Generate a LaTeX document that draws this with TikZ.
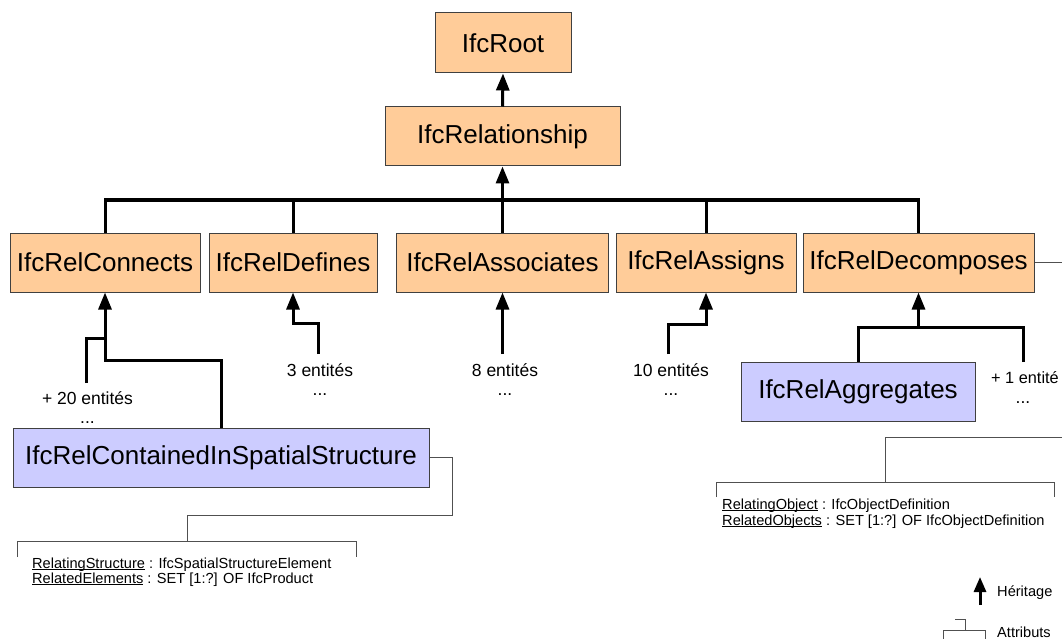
\documentclass[tikz,border=0pt]{standalone}
\usepackage{fontspec}
\setmainfont{Liberation Sans}
\usetikzlibrary{arrows.meta}
\definecolor{boxorange}{HTML}{FFCC99}
\definecolor{boxblue}{HTML}{CCCCFF}
\definecolor{edgegray}{HTML}{404040}
\definecolor{attrgray}{HTML}{505050}
\newcommand{\ulx}[1]{\setbox0\hbox{#1}\rlap{\rule[-1.8pt]{\wd0}{0.7pt}}\box0\relax}
\begin{document}
\begin{tikzpicture}[x=1pt,y=-1pt,
  cls/.style={draw=edgegray, line width=1pt, inner sep=0pt, minimum height=59pt,
    font=\fontsize{26}{30}\selectfont},
  orng/.style={cls, fill=boxorange},
  blu/.style={cls, fill=boxblue},
  heavy/.style={line width=3pt, black},
  inh/.style={heavy, -{Triangle[length=17pt,width=13pt]}},
  attr/.style={line width=1pt, attrgray},
  lbl/.style={inner sep=0pt, font=\fontsize{17.5}{20}\selectfont},
  atx/.style={inner sep=0pt, font=\fontsize{14.6}{16}\selectfont}]
\useasboundingbox (0,0) rectangle (1062,639);
\clip (0,0) rectangle (1062,639);

% classes
\node[orng, minimum width=136pt, minimum height=60pt] (root) at (503,43) {IfcRoot};
\node[orng, minimum width=235pt] (rel) at (502.5,136.5) {IfcRelationship};
\node[orng, minimum width=190pt] (conn) at (105,262.5) {IfcRelConnects};
\node[orng, minimum width=168pt] (def) at (293,262.5) {IfcRelDefines};
\node[orng, minimum width=212pt] (assoc) at (502.5,262.5) {IfcRelAssociates};
\node[orng, minimum width=180pt] (assigns) at (706,262.5) {IfcRelAssigns};
\node[orng, minimum width=231pt] (decomp) at (918.5,262.5) {IfcRelDecomposes};
\node[blu, minimum width=416pt] (contained) at (221,457.5) {IfcRelContainedInSpatialStructure};
\node[blu, minimum width=234pt] (aggr) at (858,391.5) {IfcRelAggregates};

% inheritance tree
\coordinate (bus) at (502.5,200);
\draw[heavy] (conn.north) |- (bus) -| (decomp.north);
\draw[heavy] (def.north) -- (def.north |- bus);
\draw[heavy] (assoc.north) -- (assoc.north |- bus);
\draw[heavy] (assigns.north) -- (assigns.north |- bus);
\draw[inh] (bus) -- (rel.south);
\draw[inh] (rel.north) -- (root.south);

% IfcRelConnects subtypes
\coordinate (cj1) at (105,338);
\coordinate (cj2) at (105,360);
\coordinate (ck1) at (86,383);
\draw[inh] (contained.north) |- (cj2) -- (conn.south);
\draw[heavy] (ck1) |- (cj1);

% IfcRelDefines
\coordinate (dk) at (318,354);
\coordinate (dj) at (293,323);
\draw[inh] (dk) |- (dj) -- (def.south);

% IfcRelAssociates
\coordinate (ak) at (502.5,354);
\draw[inh] (ak) -- (assoc.south);

% IfcRelAssigns
\coordinate (sk) at (668,354);
\coordinate (sj) at (706,324);
\draw[inh] (sk) |- (sj) -- (assigns.south);

% IfcRelDecomposes
\coordinate (xj) at (918.5,327);
\coordinate (xk) at (1023,362);
\draw[inh] (aggr.north) |- (xj) -- (decomp.south);
\draw[heavy] (xk) |- (xj);

% entity count labels
\node[lbl, anchor=base] (l1) at (87.5,404) {+ 20 entités};
\node[lbl, anchor=base] (l1d) at (87.5,423) {...};
\node[lbl, anchor=base] (l2) at (320,376) {3 entités};
\node[lbl, anchor=base] (l2d) at (320,395) {...};
\node[lbl, anchor=base] (l3) at (505,376) {8 entités};
\node[lbl, anchor=base] (l3d) at (505,395) {...};
\node[lbl, anchor=base] (l4) at (671,376) {10 entités};
\node[lbl, anchor=base] (l4d) at (671,395) {...};
\node[lbl, anchor=base west, font=\fontsize{16.3}{20}\selectfont] (l5) at (991,383) {+ 1 entité};
\node[lbl, anchor=base] (l5d) at (1023,403) {...};

% attributes of IfcRelContainedInSpatialStructure
\coordinate (ac1) at (452,457.5);
\coordinate (ac2) at (452,515);
\coordinate (ac3) at (187,515);
\coordinate (ac4) at (187,541);
\draw[attr] (contained.east) -- (ac1) -- (ac2) -- (ac3) -- (ac4);
\coordinate (bl1) at (17,557);
\coordinate (bl2) at (17,541);
\coordinate (bl3) at (356,541);
\coordinate (bl4) at (356,557);
\draw[attr] (bl1) -- (bl2) -- (bl3) -- (bl4);
\node[atx, anchor=base west] (a1) at (32,568) {\ulx{RelatingStructure} : IfcSpatialStructureElement};
\node[atx, anchor=base west] (a2) at (32,583) {\ulx{RelatedElements} : SET [1:?] OF IfcProduct};

% attributes of IfcRelDecomposes
\coordinate (rc1) at (1080,262.5);
\coordinate (rc2) at (1080,437);
\coordinate (rc3) at (885,437);
\coordinate (rc4) at (885,482);
\draw[attr] (decomp.east) -- (rc1) -- (rc2) -- (rc3) -- (rc4);
\coordinate (br1) at (716,497);
\coordinate (br2) at (716,482);
\coordinate (br3) at (1054,482);
\coordinate (br4) at (1054,497);
\draw[attr] (br1) -- (br2) -- (br3) -- (br4);
\node[atx, anchor=base west] (b1) at (722,509) {\ulx{RelatingObject} : IfcObjectDefinition};
\node[atx, anchor=base west] (b2) at (722,525) {\ulx{RelatedObjects} : SET [1:?] OF IfcObjectDefinition};

% legend
\coordinate (lg1) at (980,605);
\coordinate (lg2) at (980,577);
\draw[heavy, -{Triangle[length=15pt,width=12pt]}] (lg1) -- (lg2);
\node[atx, anchor=west] (hl) at (997,593) {Héritage};
\coordinate (sy1) at (955,619);
\coordinate (sy2) at (965,619);
\coordinate (sy3) at (965,630);
\draw[attr] (sy1) -- (sy2) -- (sy3);
\coordinate (sy4) at (943,641);
\coordinate (sy5) at (943,630);
\coordinate (sy6) at (985,630);
\coordinate (sy7) at (985,641);
\draw[attr] (sy4) -- (sy5) -- (sy6) -- (sy7);
\node[atx, anchor=west] (al) at (997,632) {Attributs};
\end{tikzpicture}
\end{document}
